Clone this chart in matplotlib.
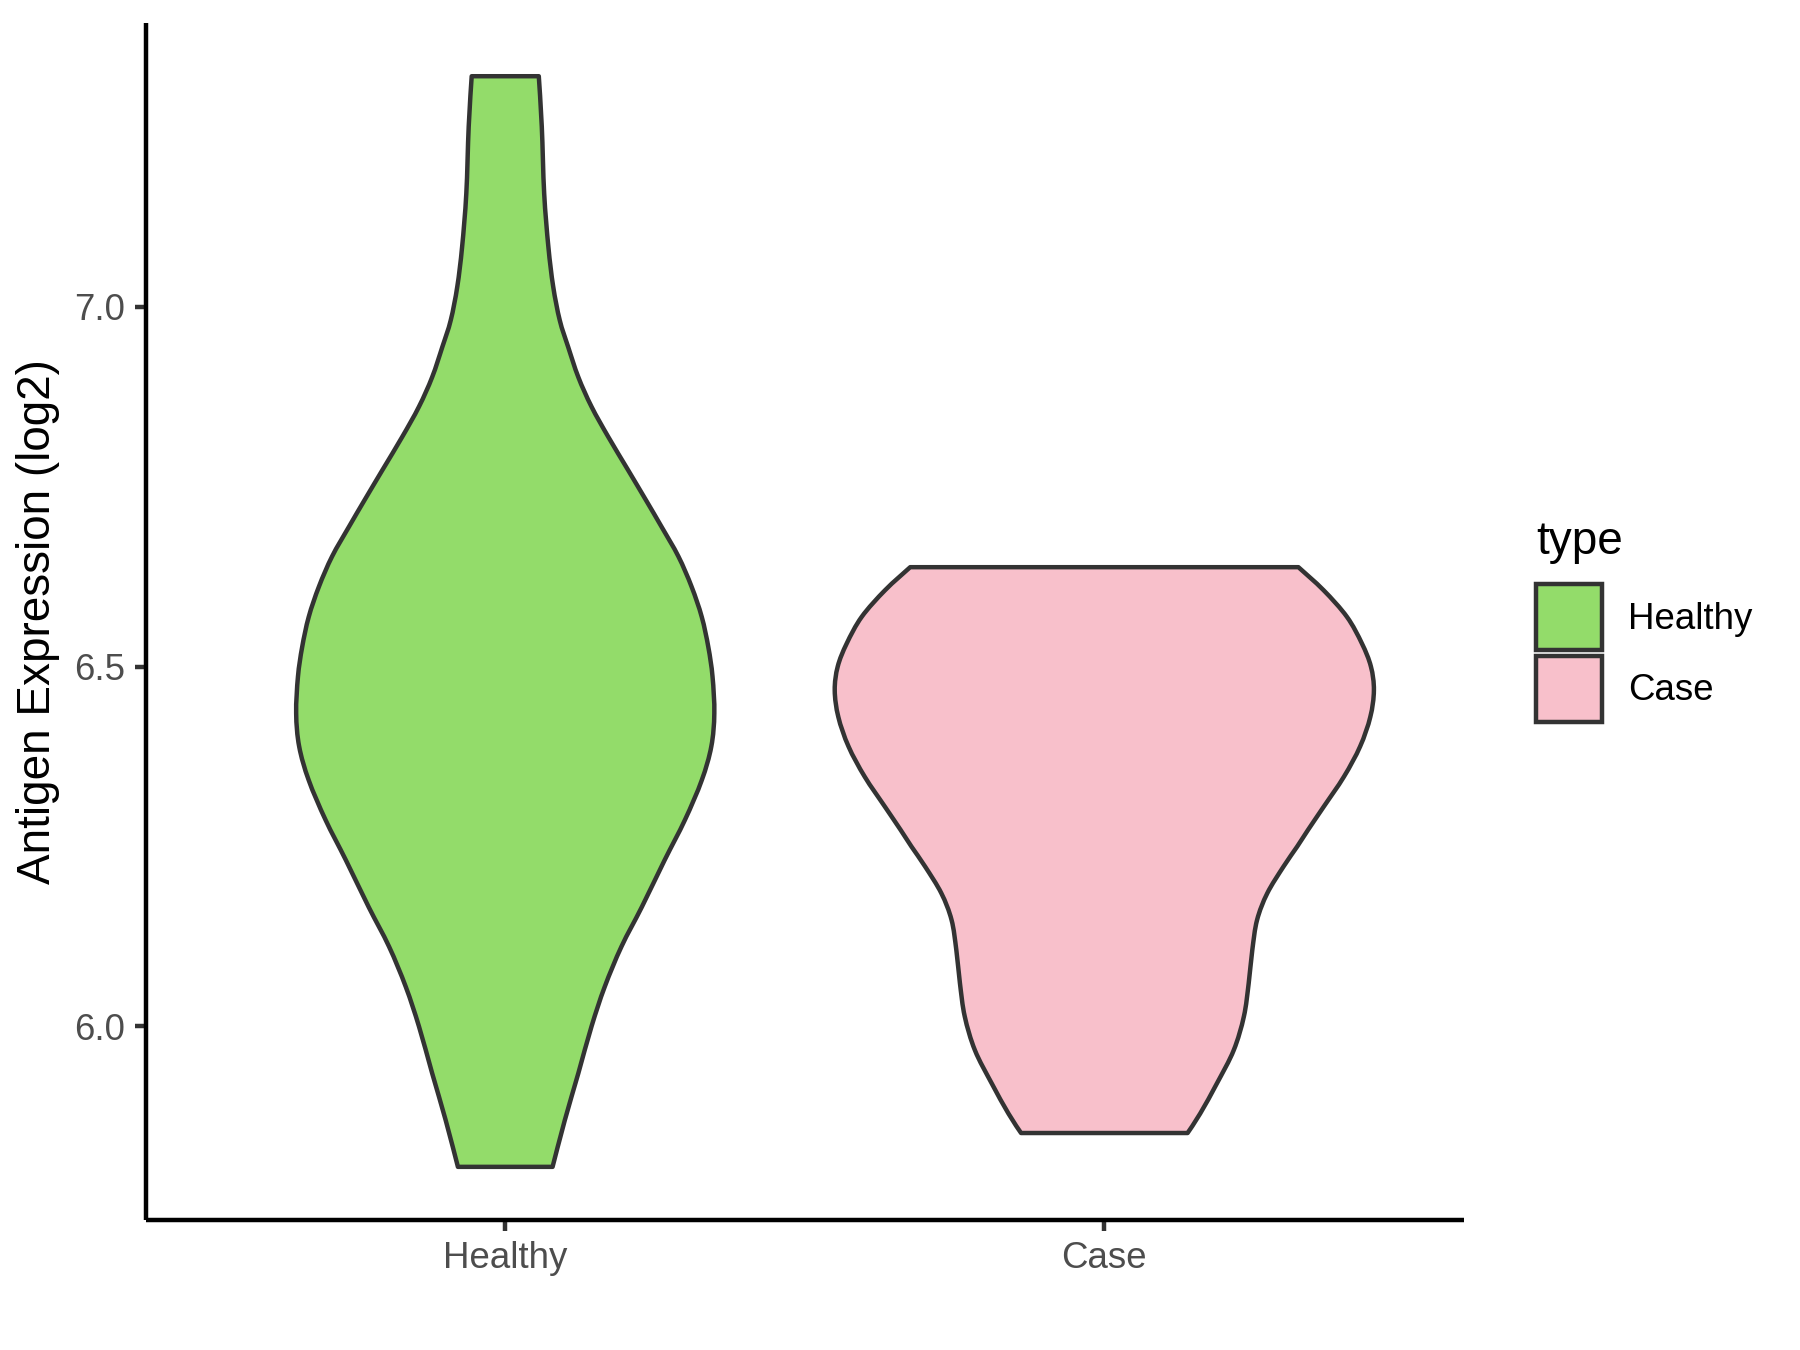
import numpy as np
import matplotlib
matplotlib.use('Agg')
import matplotlib.pyplot as plt
from matplotlib.patches import Patch, PathPatch
from matplotlib.path import Path

plt.rcParams['font.family'] = ['Liberation Sans', 'DejaVu Sans']

# categories / colours
groups = ['Healthy', 'Case']
colors = ['#93DC6A', '#F8C0CB']

# violin outlines: expression value -> half width (x units)
healthy_y = [5.805, 5.870, 5.935, 6.000, 6.055, 6.111, 6.166, 6.231, 6.287, 6.342,
             6.389, 6.435, 6.486, 6.527, 6.569, 6.611, 6.653, 6.694, 6.731, 6.773,
             6.819, 6.861, 6.902, 6.944, 6.981, 7.028, 7.083, 7.157, 7.250, 7.320]
healthy_w = [0.079, 0.0995, 0.122, 0.144, 0.166, 0.194, 0.228, 0.266, 0.300, 0.328,
             0.344, 0.349, 0.346, 0.339, 0.328, 0.311, 0.289, 0.261, 0.235, 0.205,
             0.172, 0.144, 0.122, 0.105, 0.091, 0.080, 0.072, 0.065, 0.061, 0.056]

case_y = [5.852, 5.879, 5.921, 5.967, 6.014, 6.060, 6.106, 6.148, 6.185, 6.222,
          6.250, 6.273, 6.305, 6.347, 6.389, 6.430, 6.467, 6.500, 6.532, 6.569,
          6.606, 6.638]
case_w = [0.139, 0.160, 0.188, 0.216, 0.233, 0.241, 0.247, 0.255, 0.272, 0.299,
          0.322, 0.340, 0.366, 0.400, 0.427, 0.444, 0.450, 0.445, 0.430, 0.405,
          0.366, 0.324]

profiles = [(healthy_y, healthy_w), (case_y, case_w)]

yticks = [6.0, 6.5, 7.0]
ytick_labels = ['6.0', '6.5', '7.0']


def smooth_side(pts):
    # bezier segments through the read points (catmull-rom style handles)
    verts = [pts[0]]
    codes = []
    n = len(pts)
    for i in range(n - 1):
        p0 = pts[max(i - 1, 0)]
        p1 = pts[i]
        p2 = pts[i + 1]
        p3 = pts[min(i + 2, n - 1)]
        c1 = p1 + (p2 - p0) / 6.0
        c2 = p2 - (p3 - p1) / 6.0
        verts += [c1, c2, p2]
        codes += [Path.CURVE4] * 3
    return verts, codes


def violin_path(pos, yy, ww):
    yy = np.array(yy)
    ww = np.array(ww)
    left = np.column_stack([pos - ww, yy])
    right = np.column_stack([pos + ww, yy])[::-1]
    lv, lc = smooth_side(left)
    rv, rc = smooth_side(right)
    verts = lv + rv + [lv[0]]
    codes = [Path.MOVETO] + lc + [Path.LINETO] + rc + [Path.CLOSEPOLY]
    return Path(np.array(verts), codes)


fig = plt.figure(figsize=(6, 4.5), dpi=300)
ax = fig.add_axes([0.081, 0.0961, 0.8132 - 0.081, 0.983 - 0.0961])

for i, (yy, ww) in enumerate(profiles):
    p = violin_path(i + 1, yy, ww)
    ax.add_patch(PathPatch(p, facecolor=colors[i], edgecolor='#333333',
                           linewidth=1.07, joinstyle='round'))

ax.set_xlim(0.4, 2.6)
ax.set_ylim(5.7308, 7.394)

ax.set_xticks([1, 2])
ax.set_xticklabels(groups)
ax.set_yticks(yticks)
ax.set_yticklabels(ytick_labels)

# classic theme
for s in ['top', 'right']:
    ax.spines[s].set_visible(False)
for s in ['left', 'bottom']:
    ax.spines[s].set_linewidth(1.07)
    ax.spines[s].set_color('black')
    ax.spines[s].set_capstyle('butt')
ax.tick_params(axis='both', length=2.75, width=1.07, color='#333333',
               labelsize=8.8, labelcolor='#4D4D4D', pad=2.2)

ax.set_ylabel('Antigen Expression (log2)', fontsize=11, color='black', labelpad=3.3)

# legend (title as separate text so the gap to the keys matches)
fig.text(0.8533, 0.5893, 'type', fontsize=11, color='black', ha='left', va='baseline')
handles = [Patch(facecolor=colors[i], edgecolor='#333333', linewidth=1.07, label=groups[i])
           for i in range(len(groups))]
leg = fig.legend(handles=handles, loc='upper left',
                 bbox_to_anchor=(0.8533, 0.5672), frameon=False, fontsize=8.8,
                 borderpad=0, borderaxespad=0,
                 handlelength=1.8, handleheight=2.39, labelspacing=0.15,
                 handletextpad=0.72)

fig.savefig('out.png', dpi=300, facecolor='white')
